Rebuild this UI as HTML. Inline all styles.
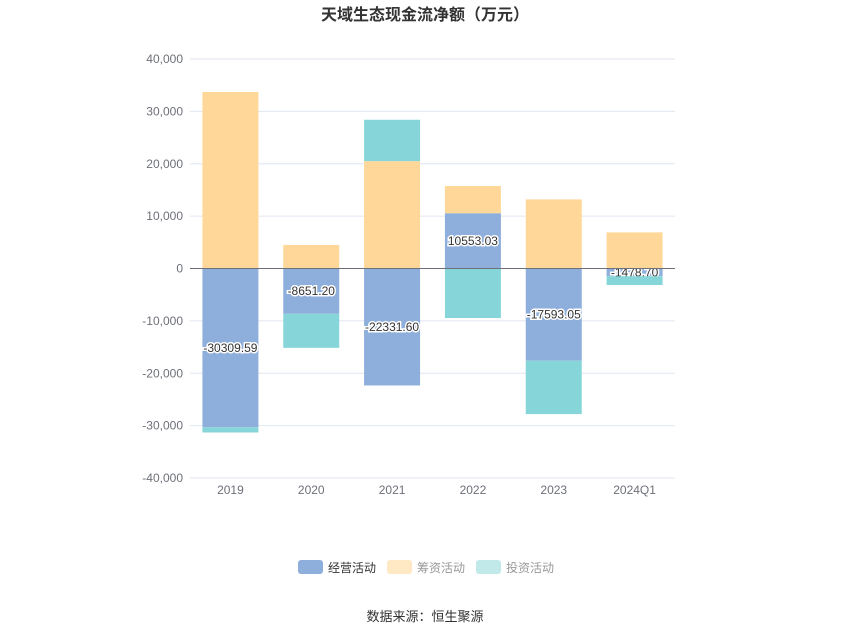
<!DOCTYPE html>
<html><head><meta charset="utf-8">
<style>
body{margin:0;background:#fff;font-family:"Liberation Sans","Noto Sans CJK SC",sans-serif;}
#wrap{position:relative;width:850px;height:637px;}
</style></head>
<body>
<div id="wrap">
<svg id="chart" width="850" height="637" xmlns="http://www.w3.org/2000/svg"></svg>
</div>
<script>
const categories=["2019","2020","2021","2022","2023","2024Q1"];
const operating=[-30309.59,-8651.20,-22331.60,10553.03,-17593.05,-1478.70];
const financing=[33700,4500,20500,5200,13200,6900];
const investing=[-1000,-6500,7900,-9450,-10200,-1670];
const yTicks=[40000,30000,20000,10000,0,-10000,-20000,-30000,-40000];
const yTickLabels=["40,000","30,000","20,000","10,000","0","-10,000","-20,000","-30,000","-40,000"];

const NS="http://www.w3.org/2000/svg";
const svg=document.getElementById('chart');
const L=190,R=675,T=59,B=478,yMin=-40000,yMax=40000;
const y=v=>T+(yMax-v)/(yMax-yMin)*(B-T);
const bw=(R-L)/categories.length;
const xc=i=>L+bw*(i+0.5);
const barW=56;
function mk(tag,attrs,txt){const e=document.createElementNS(NS,tag);for(const k in attrs)e.setAttribute(k,attrs[k]);if(txt!==undefined)e.textContent=txt;svg.appendChild(e);return e;}

let t=mk('text',{x:425,y:20,'text-anchor':'middle','font-size':16,'font-weight':'bold',fill:'#333'},'天域生态现金流净额（万元）');



yTicks.forEach((v,i)=>{
  if(v!==0){const g=mk('line',{x1:L,x2:R,y1:y(v),y2:y(v),stroke:'#e0e6f1','stroke-width':1});
  
  }
  const lb=mk('text',{x:L-7,y:y(v)+4,'text-anchor':'end','font-size':12,fill:'#6e7079'},yTickLabels[i]);
  
  
});
categories.forEach((c,i)=>{
  const lb=mk('text',{x:xc(i),y:B+16,'text-anchor':'middle','font-size':12,fill:'#6e7079'},c);
  
  
});
const series=[[operating,'#8eaedb','operating'],[financing,'#ffd899','financing'],[investing,'#86d6d9','investing']];
categories.forEach((c,i)=>{
  let pos=0,neg=0;
  series.forEach(([arr,col,nm])=>{
    const v=arr[i];let y0,y1;
    if(v>=0){y0=pos;y1=pos+v;pos=y1;}else{y0=neg;y1=neg+v;neg=y1;}
    const top=Math.min(y(y0),y(y1)),h=Math.abs(y(y0)-y(y1));
    const r=mk('rect',{x:xc(i)-barW/2,y:top,width:barW,height:h,fill:col});
    
    
    if(nm==='operating'){
      const lb=mk('text',{x:xc(i),y:top+h/2+4,'text-anchor':'middle','font-size':12,fill:'#333',stroke:'#fff','stroke-width':3,'paint-order':'stroke'},v.toFixed(2));
      
      
    }
  });
});
const zl=mk('line',{x1:L,x2:R,y1:y(0),y2:y(0),stroke:'#6e7079','stroke-width':1});


const xl=mk('line',{x1:L,x2:R,y1:B,y2:B,stroke:'#e0e6f1','stroke-width':1});



const legend=[['经营活动','#8eaedb','#333',298],['筹资活动','#ffe8c4','#999',387],['投资活动','#c2e9ea','#999',476]];
legend.forEach(([n,col,tc,x])=>{
  const r=mk('rect',{x:x,y:560,width:25,height:14,rx:3,fill:col});
  
  
  const lt=mk('text',{x:x+30,y:572,'font-size':12,fill:tc},n);
  
  
});
const src=mk('text',{x:425,y:621,'text-anchor':'middle','font-size':13,fill:'#333'},'数据来源：恒生聚源');


</script>
</body></html>
